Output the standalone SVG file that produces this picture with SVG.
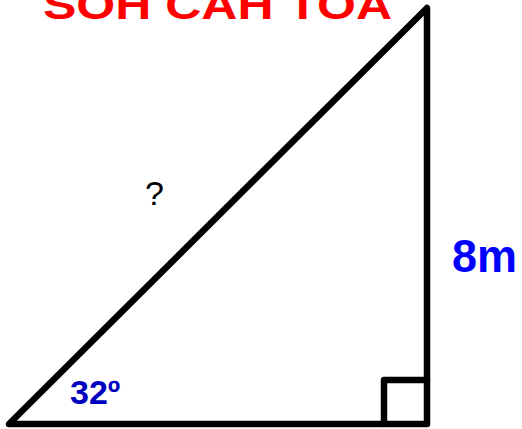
<svg xmlns="http://www.w3.org/2000/svg" width="522" height="429" viewBox="0 0 522 429">
<style>
.edge{fill:none;stroke:#000;stroke-width:6.5;stroke-linejoin:round;stroke-linecap:round}
.t{font-family:"Liberation Sans",Arial,sans-serif}
</style>
<rect width="522" height="429" fill="#fff"/>
<g id="title"><text class="t" x="43" y="19" font-size="40" font-weight="bold" fill="#ff0000" textLength="349" lengthAdjust="spacingAndGlyphs">SOH CAH TOA</text></g>
<g id="connectors">
<path class="edge" d="M9,424 L427,8 L427,424 Z"/>
<path class="edge" d="M384,424 L384,380 L427,380"/>
</g>
<g id="hyp"><text class="t" x="145" y="205" font-size="34" fill="#000">?</text></g>
<g id="angle"><text class="t" x="70" y="404" font-size="34" font-weight="bold" fill="#0000c0">32º</text></g>
<g id="opp"><text class="t" x="452" y="272" font-size="46" font-weight="bold" fill="#0000ff" textLength="65" lengthAdjust="spacingAndGlyphs">8m</text></g>
</svg>
